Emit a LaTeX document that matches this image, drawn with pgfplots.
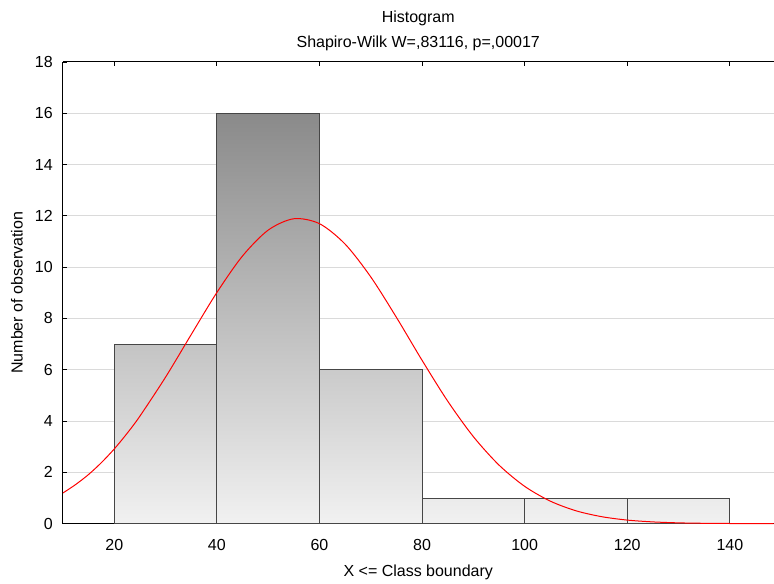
\documentclass[border=0pt]{standalone}
\usepackage{fontspec}
\setmainfont{Liberation Sans}
\usepackage{pgfplots}
\pgfplotsset{compat=1.18}
\definecolor{barlo}{RGB}{241,241,241}
\definecolor{barhi}{RGB}{138,138,138}
\definecolor{baredge}{RGB}{70,70,70}
\definecolor{gridc}{RGB}{218,218,218}
\begin{document}
\begin{tikzpicture}
\begin{axis}[
    name=main,
    at={(0,0)}, anchor=south west,
    scale only axis,
    width=711pt, height=462pt,
    xmin=10, xmax=148.5,
    ymin=0, ymax=18,
    xtick={20,40,...,140},
    ytick={0,2,...,18},
    axis x line*=box,
    axis y line*=left,
    axis line style={black, line width=1pt},
    tick style={black, line width=0.8pt},
    tick align=inside,
    major tick length=4pt,
    ymajorgrids,
    grid style={gridc, line width=1pt},
    xtick pos=both,
    /pgf/number format/assume math mode=true,
    tick label style={font=\fontsize{16}{19}\selectfont},
    xticklabel style={anchor=center, yshift=-21pt},
    yticklabel style={anchor=east, inner sep=0pt, xshift=-10pt},
    title={Histogram\\Shapiro-Wilk W=,83116, p=,00017},
    title style={align=center, font=\fontsize{16}{25}\selectfont,
        at={(axis description cs:0.5,1.0545)}, anchor=center},
    xlabel={X <= Class boundary},
    ylabel={Number of observation},
    label style={font=\fontsize{16}{19}\selectfont},
    xlabel style={at={(axis description cs:0.5,-0.106)}, anchor=center},
    ylabel style={at={(axis description cs:-0.0647,0.5)}, anchor=center},
    clip=false,
]
% bars, shaded by height
\addplot[ybar interval, draw=baredge, line width=0.8pt, top color=barhi!43.75!barlo, bottom color=barlo] coordinates {(20,7) (40,7)};
\addplot[ybar interval, draw=baredge, line width=0.8pt, top color=barhi, bottom color=barlo] coordinates {(40,16) (60,16)};
\addplot[ybar interval, draw=baredge, line width=0.8pt, top color=barhi!37.5!barlo, bottom color=barlo] coordinates {(60,6) (80,6)};
\addplot[ybar interval, draw=baredge, line width=0.8pt, top color=barhi!6.25!barlo, bottom color=barlo] coordinates {(80,1) (100,1)};
\addplot[ybar interval, draw=baredge, line width=0.8pt, top color=barhi!6.25!barlo, bottom color=barlo] coordinates {(100,1) (120,1)};
\addplot[ybar interval, draw=baredge, line width=0.8pt, top color=barhi!6.25!barlo, bottom color=barlo] coordinates {(120,1) (140,1)};

% fitted normal curve
\addplot[red, line width=1pt, smooth, no markers] coordinates {
    (10,1.196) (12.5,1.529) (15,1.918) (17.5,2.381) (20,2.913) (22.5,3.520)
    (25,4.192) (30,5.712) (35,7.373)
    (40,9.012) (45,10.435) (50,11.444) (55,11.887) (60,11.695) (65,10.898)
    (70,9.619) (75,8.042) (80,6.368) (85,4.775) (90,3.392) (95,2.283)
    (100,1.454) (105,0.878) (110,0.502) (115,0.272) (120,0.139) (125,0.068)
    (130,0.031) (135,0.014) (140,0.006) (145,0.002) (148.5,0.001)
};
\end{axis}
\useasboundingbox (-63pt,-59pt) rectangle (711pt,524pt);
\end{tikzpicture}
\end{document}
